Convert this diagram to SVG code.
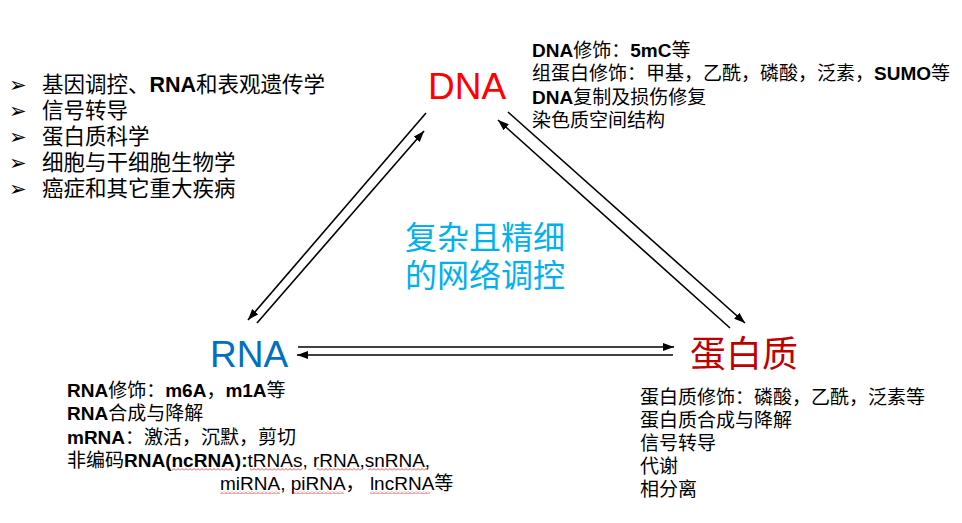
<svg xmlns="http://www.w3.org/2000/svg" width="962" height="523" viewBox="0 0 962 523">
<style>
.t{font-family:"Liberation Sans","Noto Sans CJK SC",sans-serif;fill:#000}
.b{font-weight:bold}
.sm{font-size:19px}
.li{font-size:21.5px}
.conn line{stroke:#000;stroke-width:1.6;marker-end:url(#ah)}
</style>
<defs>
<marker id="ah" markerUnits="userSpaceOnUse" markerWidth="12" markerHeight="10" refX="11" refY="4" orient="auto">
<path d="M0,0 L11,4 L0,8 z" fill="#000"/>
</marker>
<pattern id="wv" width="4" height="3" patternUnits="userSpaceOnUse">
<path d="M0,2.5 L2,0.5 L4,2.5" fill="none" stroke="#e02020" stroke-width="0.8"/>
</pattern>
</defs>
<rect width="962" height="523" fill="#fff"/>

<g id="topics">
<g font-family="DejaVu Sans" font-size="21">
<text x="9" y="92">➢</text>
<text x="9" y="118">➢</text>
<text x="9" y="144">➢</text>
<text x="9" y="170">➢</text>
<text x="9" y="196">➢</text>
</g>
<text class="t li" x="42" y="92">基因调控、<tspan class="b">RNA</tspan>和表观遗传学</text>
<text class="t li" x="42" y="118">信号转导</text>
<text class="t li" x="42" y="144">蛋白质科学</text>
<text class="t li" x="42" y="170">细胞与干细胞生物学</text>
<text class="t li" x="42" y="196">癌症和其它重大疾病</text>
</g>

<g id="dna">
<text class="t" x="428" y="99" font-size="37" style="fill:#ff0000">DNA</text>
<text class="t sm" x="532" y="57"><tspan class="b">DNA</tspan>修饰：<tspan class="b">5mC</tspan>等</text>
<text class="t sm" x="532" y="80">组蛋白修饰：甲基，乙酰，磷酸，泛素，<tspan class="b">SUMO</tspan>等</text>
<text class="t sm" x="532" y="104"><tspan class="b">DNA</tspan>复制及损伤修复</text>
<text class="t sm" x="532" y="127">染色质空间结构</text>
</g>

<g id="rna">
<text class="t" x="210" y="367" font-size="37" style="fill:#0070c0">RNA</text>
<text class="t sm" x="67" y="397"><tspan class="b">RNA</tspan>修饰：<tspan class="b">m6A</tspan>，<tspan class="b">m1A</tspan>等</text>
<text class="t sm" x="67" y="420"><tspan class="b">RNA</tspan>合成与降解</text>
<text class="t sm" x="67" y="444"><tspan class="b">mRNA</tspan>：激活，沉默，剪切</text>
<text class="t sm" x="67" y="467">非编码<tspan class="b">RNA(ncRNA):</tspan>tRNAs, rRNA,snRNA,</text>
<text class="t sm" x="220" y="490" xml:space="preserve">miRNA, piRNA， lncRNA等</text>
<g id="spell">
<rect x="172" y="468" width="60" height="3" fill="url(#wv)"/>
<rect x="250" y="468" width="52" height="3" fill="url(#wv)"/>
<rect x="317" y="468" width="44" height="3" fill="url(#wv)"/>
<rect x="368" y="468" width="60" height="3" fill="url(#wv)"/>
<rect x="220" y="491" width="60" height="3" fill="url(#wv)"/>
<rect x="292" y="491" width="52" height="3" fill="url(#wv)"/>
<rect x="370" y="491" width="60" height="3" fill="url(#wv)"/>
</g>
</g>

<g id="protein">
<text class="t" x="690" y="367" font-size="36" style="fill:#c00000">蛋白质</text>
<text class="t sm" x="640" y="404">蛋白质修饰：磷酸，乙酰，泛素等</text>
<text class="t sm" x="640" y="427">蛋白质合成与降解</text>
<text class="t sm" x="640" y="450">信号转导</text>
<text class="t sm" x="640" y="473">代谢</text>
<text class="t sm" x="640" y="496">相分离</text>
</g>

<g id="center">
<text class="t" x="405" y="249" font-size="32" style="fill:#00b0f0">复杂且精细</text>
<text class="t" x="405" y="287" font-size="32" style="fill:#00b0f0">的网络调控</text>
</g>

<g id="connectors" class="conn">
<line x1="426" y1="113" x2="248" y2="320"/>
<line x1="257" y1="323" x2="424" y2="131"/>
<line x1="508" y1="112" x2="745" y2="323"/>
<line x1="730" y1="328" x2="498" y2="120"/>
<line x1="298" y1="347" x2="674" y2="347"/>
<line x1="673" y1="355" x2="297" y2="355"/>
</g>
</svg>
